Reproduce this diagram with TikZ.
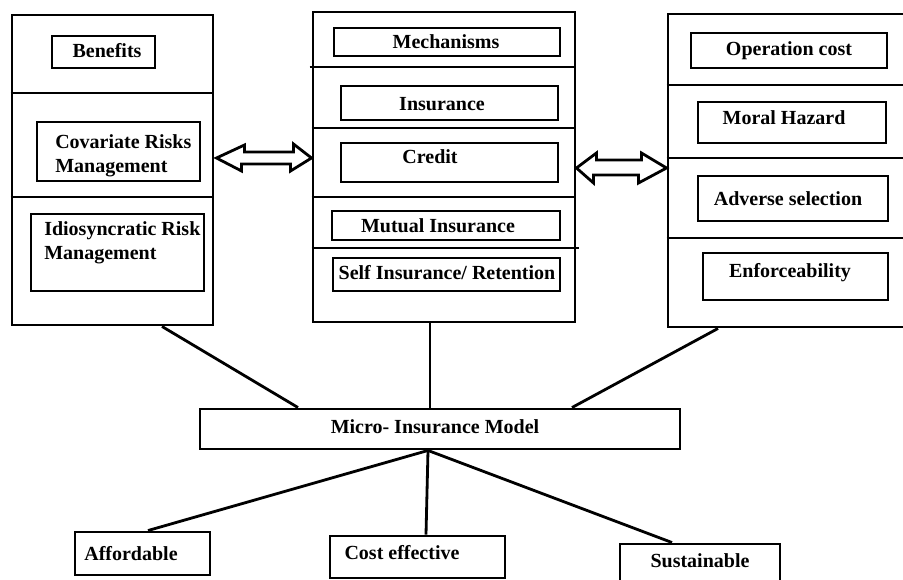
\documentclass[tikz,border=0pt]{standalone}
\usepackage{fontspec}
\setmainfont{Liberation Serif}
\usepackage{tikz}
\usetikzlibrary{fit}

\begin{document}
\begin{tikzpicture}[x=0.75pt, y=-0.75pt,
  font=\bfseries\fontsize{15}{18}\selectfont,
  frame/.style={draw, line width=2.2pt, inner sep=0pt},
  item/.style={draw, line width=2.2pt, inner sep=0pt},
  txt/.style={inner sep=0pt, align=left},
  link/.style={line width=2.1pt},
  hollow/.style={draw, fill=white, line width=2.1pt, line join=miter}]
  \useasboundingbox (0,0) rectangle (903,580);

  % Benefits column
  \node[frame, fit={(12,15) (213,325)}] (benefits) {};
  \draw[link] (benefits.west |- 0,93) -- (benefits.east |- 0,93);
  \draw[link] (benefits.west |- 0,197) -- (benefits.east |- 0,197);
  \node[item, fit={(52,36) (155,68)}] (ben) {};
  \node[txt] (bentxt) at (107,51) {Benefits};
  \node[item, fit={(37,122) (200,181)}] (cov) {};
  \node[txt, anchor=north west] (covtxt) at (55,134) {Covariate Risks\\Management};
  \node[item, fit={(31,214) (204,291)}] (idio) {};
  \node[txt, anchor=north west] (idiotxt) at (44,221) {Idiosyncratic Risk\\Management};

  % Mechanisms column
  \node[frame, fit={(313,12) (575,322)}] (mech) {};
  \draw[link] ([xshift=-1.5pt]mech.west |- 0,67) -- (mech.east |- 0,67);
  \draw[link] (mech.west |- 0,128) -- (mech.east |- 0,128);
  \draw[link] (mech.west |- 0,197) -- (mech.east |- 0,197);
  \draw[link] (mech.west |- 0,248) -- ([xshift=2pt]mech.east |- 0,248);
  \node[item, fit={(334,28) (560,56)}] (mechs) {};
  \node[txt] (mechstxt) at (446,42) {Mechanisms};
  \node[item, fit={(341,86) (558,120)}] (ins) {};
  \node[txt] (instxt) at (442,104) {Insurance};
  \node[item, fit={(341,143) (558,182)}] (cred) {};
  \node[txt] (credtxt) at (430,157) {Credit};
  \node[item, fit={(332,211) (560,240)}] (mutual) {};
  \node[txt] (mutualtxt) at (438,226) {Mutual Insurance};
  \node[item, fit={(333,258) (560,291)}] (self) {};
  \node[txt] (selftxt) at (447,273) {Self Insurance/ Retention};

  % Constraints column (runs off the right edge)
  \node[frame, fit={(668,14) (908,327)}] (limits) {};
  \draw[link] (limits.west |- 0,85) -- (limits.east |- 0,85);
  \draw[link] (limits.west |- 0,158) -- (limits.east |- 0,158);
  \draw[link] (limits.west |- 0,238) -- (limits.east |- 0,238);
  \node[item, fit={(691,33) (887,68)}] (opcost) {};
  \node[txt] (opcosttxt) at (789,51) {Operation cost};
  \node[item, fit={(698,102) (886,143)}] (moral) {};
  \node[txt] (moraltxt) at (784,118) {Moral Hazard};
  \node[item, fit={(698,176) (888,221)}] (adverse) {};
  \node[txt] (adversetxt) at (788,199) {Adverse selection};
  \node[item, fit={(703,253) (888,300)}] (enforce) {};
  \node[txt] (enforcetxt) at (790,273) {Enforceability};

  % Hollow double arrows between columns
  \draw[hollow] (benefits.east |- 0,158) ++(2,0) -- ++(28,-13) -- ++(0,7) -- ++(49,0) -- ++(0,-8)
    -- (mech.west |- 0,158) -- ++(-21,13) -- ++(0,-7) -- ++(-49,0) -- ++(0,7) -- cycle;
  \draw[hollow] (mech.east |- 0,168) -- ++(20,-15) -- ++(0,7) -- ++(45,0) -- ++(0,-7)
    -- (limits.west |- 0,168) -- ++(-28,15) -- ++(0,-8) -- ++(-45,0) -- ++(0,8) -- cycle;

  % Model and its outcomes
  \node[item, fit={(200,409) (680,449)}] (model) {};
  \node[txt] (modeltxt) at (435,427) {Micro- Insurance Model};
  \draw[link] (benefits.south -| 162,0) -- (model.north -| 298,0);
  \draw[link] (mech.south -| 430,0) -- (model.north -| 430,0);
  \draw[link] (limits.south -| 718,0) -- (model.north -| 572,0);

  \node[item, fit={(75,532) (210,575)}] (afford) {};
  \node[txt] (affordtxt) at (131,554) {Affordable};
  \node[item, fit={(330,536) (505,578)}] (costeff) {};
  \node[txt] (costefftxt) at (402,553) {Cost effective};
  \node[item, fit={(620,544) (780,590)}] (sustain) {};
  \node[txt] (sustaintxt) at (700,561) {Sustainable};

  \coordinate (hub) at (model.south -| 428,0);
  \draw[link] (hub) -- (afford.north -| 148,0);
  \draw[link] (hub) -- (costeff.north -| 426,0);
  \draw[link] (hub) -- (sustain.north -| 672,0);
\end{tikzpicture}
\end{document}
